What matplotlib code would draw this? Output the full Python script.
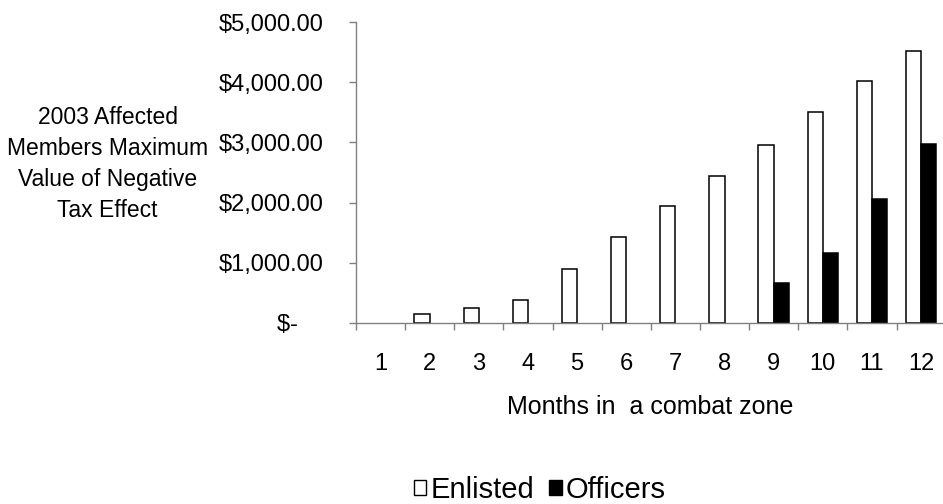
import numpy as np
import matplotlib
matplotlib.use("Agg")
import matplotlib.pyplot as plt
from matplotlib.patches import Patch

plt.rcParams["font.family"] = ["Liberation Sans", "DejaVu Sans"]

# Values
months = list(range(1, 13))
enlisted = [0, 145, 250, 380, 895, 1430, 1945, 2450, 2955, 3510, 4015, 4525]
officers = [0, 0, 0, 0, 0, 0, 0, 0, 655, 1165, 2055, 2970]
y_ticks = [0, 1000, 2000, 3000, 4000, 5000]
y_tick_labels = ["$-    ", "$1,000.00", "$2,000.00", "$3,000.00", "$4,000.00", "$5,000.00"]

axis_grey = "#808080"

fig = plt.figure(figsize=(9.43, 5.04), dpi=100)
ax = fig.add_axes([356 / 943, 181.3 / 504, 589.7 / 943, 300.4 / 504])

x = np.array(months)
w = 0.31
lw_e = [1.1 if v > 0 else 0 for v in enlisted]
lw_o = [1.1 if v > 0 else 0 for v in officers]
ax.bar(x - w / 2, enlisted, width=w, facecolor="white", edgecolor="black", linewidth=lw_e)
ax.bar(x + w / 2, officers, width=w, facecolor="black", edgecolor="black", linewidth=lw_o)

ax.set_xlim(0.5, 12.5)
ax.set_ylim(0, 5000)

for s in ["top", "right"]:
    ax.spines[s].set_visible(False)
for s in ["left", "bottom"]:
    ax.spines[s].set_color(axis_grey)
    ax.spines[s].set_linewidth(1.0)

# ticks at category boundaries, labels at centres
ax.set_xticks(np.arange(0.5, 13, 1))
ax.set_xticklabels([])
ax.set_xticks(x, minor=True)
ax.set_xticklabels([str(m) for m in months], minor=True, fontsize=17)
ax.tick_params(axis="x", which="major", direction="out", length=5, width=1, color=axis_grey)
ax.tick_params(axis="x", which="minor", length=0, pad=22)

ax.set_yticks(y_ticks)
ax.set_yticklabels(y_tick_labels, fontsize=17)
ax.tick_params(axis="y", direction="out", length=5, width=1, color=axis_grey, pad=18)

fig.text(107.5 / 943, 1 - 164 / 504,
         "2003 Affected\nMembers Maximum\nValue of Negative\nTax Effect",
         ha="center", va="center", fontsize=16.5, linespacing=1.45)

fig.text(650 / 943, 1 - 414 / 504, "Months in  a combat zone",
         ha="center", va="baseline", fontsize=18)

handles = [Patch(facecolor="white", edgecolor="black", linewidth=1.0),
           Patch(facecolor="black", edgecolor="black", linewidth=1.0)]
fig.legend(handles, ["Enlisted", "Officers"], loc="center",
           bbox_to_anchor=(540 / 943, 1 - 490 / 504), ncol=2, frameon=False,
           fontsize=21, handlelength=0.43, handleheight=0.43,
           handletextpad=0.15, columnspacing=0.5, borderpad=0)

fig.savefig("out.png", dpi=100)
plt.close(fig)
